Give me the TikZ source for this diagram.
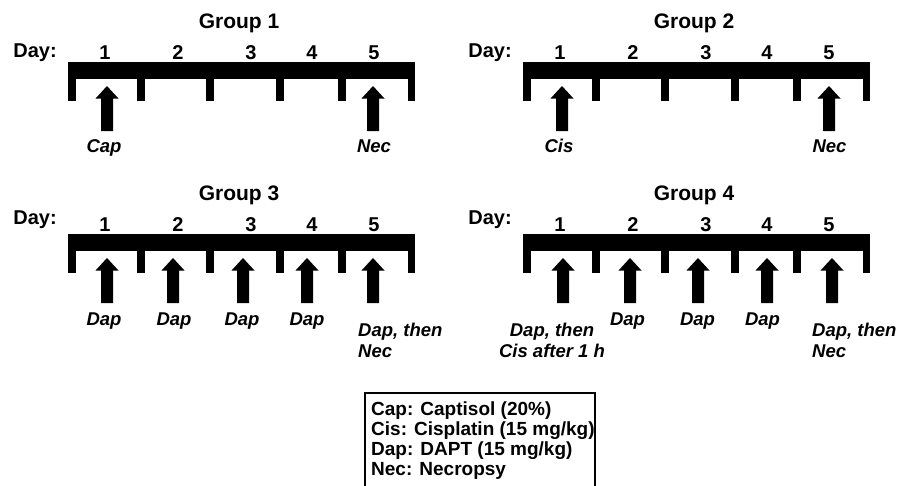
\documentclass[tikz,border=0pt]{standalone}
\usepackage{fontspec}
\setmainfont{Liberation Sans}
\usepackage{tikz}
\usetikzlibrary{positioning}

\tikzset{
  grouptitle/.style={font=\fontsize{21}{24}\selectfont\bfseries, anchor=base, inner sep=0pt},
  daylabel/.style={font=\fontsize{20}{24}\selectfont\bfseries, anchor=base, inner sep=0pt},
  dose/.style={font=\fontsize{18.5}{21}\selectfont\bfseries\itshape, inner sep=0pt},
  legendtext/.style={font=\fontsize{19}{20}\selectfont\bfseries, align=left, inner sep=0pt, anchor=north west},
  dosearrow/.pic={\fill (-6,45) -- (-6,12.5) -- (-11.5,12.5) -- (0,0) -- (11.5,12.5) -- (6,12.5) -- (6,45) -- cycle;}
}

\begin{document}
\begin{tikzpicture}[x=1pt, y=-1pt]
    \clip (0,0) rectangle (899,485);
    % timelines of the four groups
    \foreach \g/\dx/\dy/\dayy in {1/0/0/57, 2/455/0/57, 3/0/172/52, 4/455/172/52}{
      \begin{scope}[shift={(\dx,\dy)}]
        \node[grouptitle] (title\g) at (239,28) {Group \g};
        \node[daylabel] (day\g) at (35,\dayy) {Day:};
        \foreach \d/\x in {1/105, 2/178, 3/251, 4/312, 5/374}
          \node[daylabel] (g\g d\d) at (\x,59) {\d};
        \fill (68,62) rectangle (415,79);
        \foreach \t in {68, 137, 206, 276, 338, 407.5}
          \fill (\t,78) rectangle ++(7.5,23);
      \end{scope}
    }

    % Group 1
    \pic at (107,86) {dosearrow};
    \pic at (373,86) {dosearrow};
    \node[dose, anchor=base] (g1cap) at (104,152) {Cap};
    \node[dose, anchor=base] (g1nec) at (374,152) {Nec};

    % Group 2
    \pic at (562,86) {dosearrow};
    \pic at (829,86) {dosearrow};
    \node[dose, anchor=base] (g2cis) at (559,152) {Cis};
    \node[dose, anchor=base] (g2nec) at (829.5,152) {Nec};

    % Group 3
    \foreach \x in {107, 173, 243, 307, 373}
      \pic at (\x,258) {dosearrow};
    \foreach \d/\x in {1/104, 2/174, 3/242, 4/307}
      \node[dose, anchor=base] (g3dap\d) at (\x,325) {Dap};
    \node[dose, anchor=north west, align=left] (g3last) at (358,322.7) {Dap, then\\Nec};

    % Group 4
    \foreach \x in {563, 630, 698, 767, 832}
      \pic at (\x,258) {dosearrow};
    \node[dose, anchor=north, align=center] (g4first) at (552,322.7) {Dap, then\\Cis after 1 h};
    \foreach \d/\x in {2/627.5, 3/697.5, 4/762.5}
      \node[dose, anchor=base] (g4dap\d) at (\x,325) {Dap};
    \node[dose, anchor=north west, align=left] (g4last) at (812,322.7) {Dap, then\\Nec};

    % legend
    \draw[line width=1.8pt] (365,393) rectangle (595,495);
    \node[legendtext] (legend) at (371,401.1) {Cap: Captisol (20\%)\\Cis: Cisplatin (15 mg/kg)\\Dap: DAPT (15 mg/kg)\\Nec: Necropsy};
\end{tikzpicture}
\end{document}
